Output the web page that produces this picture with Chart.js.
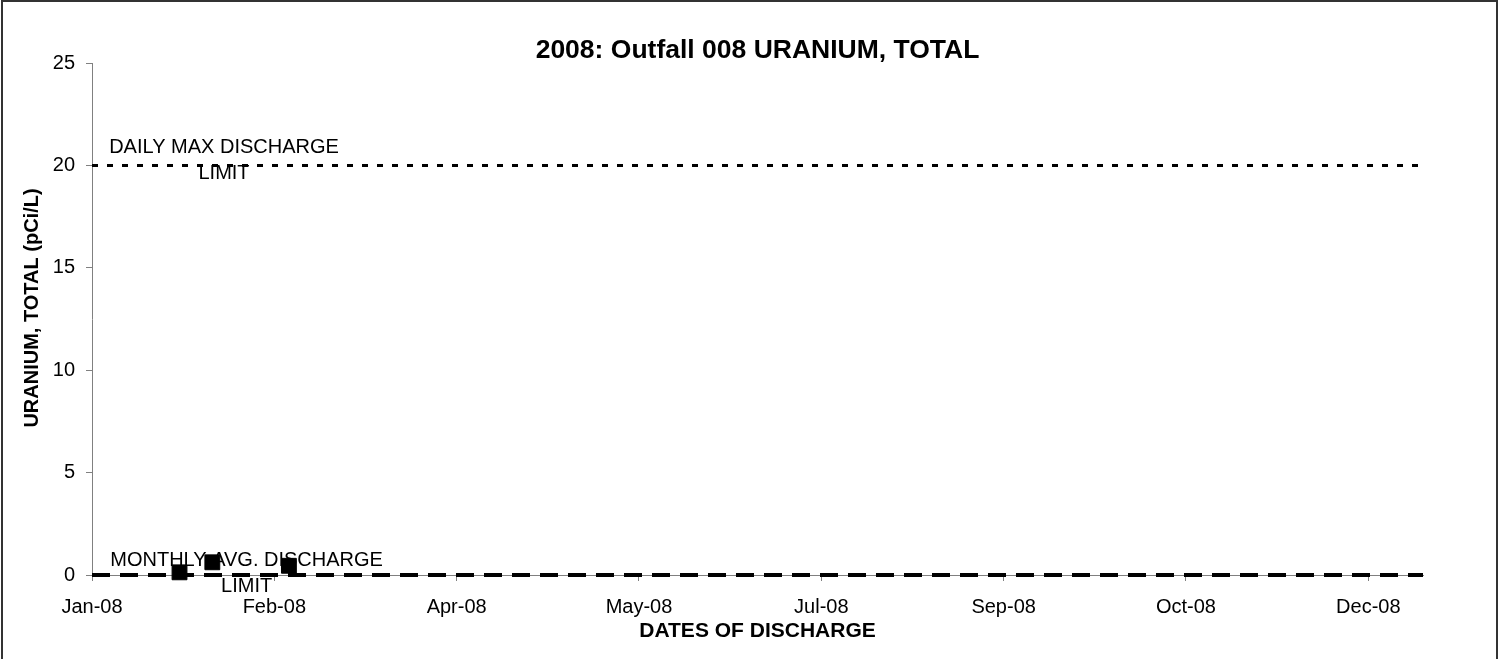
<!DOCTYPE html>
<html>
<head>
<meta charset="utf-8">
<script src="https://cdn.jsdelivr.net/npm/chart.js@4.4.1/dist/chart.umd.min.js"></script>
<style>
  body { margin: 0; background: #fff; }
  #wrap { position: relative; width: 1499px; height: 659px; overflow: hidden; }
  #frame { position: absolute; left: 1px; top: 0; width: 1493px; height: 700px; border: 2px solid #333; pointer-events: none; }
</style>
</head>
<body>
<div id="wrap">
  <canvas id="uraniumChart" width="1499" height="659"></canvas>
  <div id="frame"></div>
</div>
<script>
// Data
const sampleDates = ["2008-01-25", "2008-02-03", "2008-02-24"];
const sampleValues = [0.13, 0.62, 0.45];
const dailyMaxLimit = 20;
const monthlyAvgLimit = 0;
const xTickLabels = ["Jan-08", "Feb-08", "Apr-08", "May-08", "Jul-08", "Sep-08", "Oct-08", "Dec-08"];
const dailyLabel = ["DAILY MAX DISCHARGE", "LIMIT"];
const monthlyLabel = ["MONTHLY AVG. DISCHARGE", "LIMIT"];

const FONT = "'Liberation Sans', Arial, sans-serif";
const DAY0 = Date.UTC(2008, 0, 1);

// days since Jan 1 2008
function toDay(s) {
  const p = s.split("-").map(Number);
  return (Date.UTC(p[0], p[1] - 1, p[2]) - DAY0) / 86400000;
}

const samplePoints = sampleDates.map((d, i) => ({ x: toDay(d), y: sampleValues[i] }));

// Text labels on the limit lines + rotated y title
const textPlugin = {
  id: "textPlugin",
  afterDatasetsDraw(chart) {
    const ctx = chart.ctx;
    const xs = chart.scales.x;
    const ys = chart.scales.y;
    ctx.save();
    ctx.fillStyle = "#000";
    ctx.textAlign = "center";
    ctx.textBaseline = "alphabetic";
    ctx.font = "20px " + FONT;

    let cx = xs.getPixelForValue(36.2);
    let cy = ys.getPixelForValue(dailyMaxLimit);
    ctx.fillText(dailyLabel[0], cx, cy - 12);
    ctx.fillText(dailyLabel[1], cx, cy + 14);

    cx = xs.getPixelForValue(42.4);
    cy = ys.getPixelForValue(monthlyAvgLimit);
    ctx.fillText(monthlyLabel[0], cx, cy - 9);
    ctx.fillText(monthlyLabel[1], cx, cy + 17);

    // y axis title
    ctx.translate(32, 308);
    ctx.rotate(-Math.PI / 2);
    ctx.textBaseline = "middle";
    ctx.font = "bold 20px " + FONT;
    ctx.fillText("URANIUM, TOTAL (pCi/L)", 0, 0);
    ctx.restore();
  }
};

const ctx = document.getElementById("uraniumChart").getContext("2d");

new Chart(ctx, {
  type: "scatter",
  data: {
    datasets: [
      {
        label: "URANIUM, TOTAL",
        data: samplePoints,
        pointStyle: "rect",
        pointRadius: 10.5,
        pointBorderWidth: 1,
        backgroundColor: "#000",
        borderColor: "#000",
        showLine: false,
        clip: false
      },
      {
        label: "DAILY MAX DISCHARGE LIMIT",
        data: [{ x: 0, y: dailyMaxLimit }, { x: 365, y: dailyMaxLimit }],
        showLine: true,
        pointRadius: 0,
        borderColor: "#000",
        borderWidth: 3,
        borderDash: [6, 9],
        clip: 5
      },
      {
        label: "MONTHLY AVG. DISCHARGE LIMIT",
        data: [{ x: 0, y: monthlyAvgLimit }, { x: 365, y: monthlyAvgLimit }],
        showLine: true,
        pointRadius: 0,
        borderColor: "#000",
        borderWidth: 4,
        borderDash: [18, 10],
        clip: 5
      }
    ]
  },
  options: {
    responsive: false,
    animation: false,
    layout: { padding: { left: 0, right: 76, top: 0, bottom: 0 } },
    plugins: {
      legend: { display: false },
      tooltip: { enabled: false },
      title: {
        display: true,
        text: "2008: Outfall 008 URANIUM, TOTAL",
        color: "#000",
        fullSize: false,
        font: { family: FONT, size: 26.5, weight: "bold", lineHeight: 0.9 },
        padding: { top: 39.15, bottom: 0 }
      }
    },
    scales: {
      x: {
        type: "linear",
        min: 0,
        max: 365,
        afterFit: (s) => { s.height = 84; },
        border: { color: "#808080", width: 1 },
        grid: { drawOnChartArea: false, drawTicks: true, tickLength: 6, color: "#808080" },
        ticks: {
          stepSize: 50,
          includeBounds: false,
          autoSkip: false,
          maxRotation: 0,
          padding: 14,
          color: "#000",
          font: { family: FONT, size: 20 },
          callback: (v) => xTickLabels[Math.round(v / 50)]
        },
        title: {
          display: true,
          text: "DATES OF DISCHARGE",
          color: "#000",
          font: { family: FONT, size: 21, weight: "bold" },
          padding: { top: 0, bottom: 15 }
        }
      },
      y: {
        min: 0,
        max: 25,
        afterFit: (s) => { s.width = 92; },
        border: { color: "#808080", width: 1 },
        grid: { drawOnChartArea: false, drawTicks: true, tickLength: 6, color: "#808080" },
        ticks: {
          stepSize: 5,
          padding: 11,
          color: "#000",
          font: { family: FONT, size: 20 }
        }
      }
    }
  },
  plugins: [textPlugin]
});
</script>
</body>
</html>
